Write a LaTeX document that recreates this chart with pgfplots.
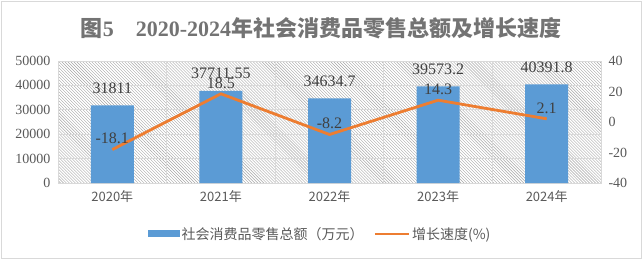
\documentclass[border=0pt]{standalone}
\usepackage{fontspec}
\usepackage{pgfplots}
\usepackage{pgfplotstable}
\pgfplotsset{compat=1.18}
\usetikzlibrary{patterns}
\setmainfont{Liberation Serif}
\newfontfamily\cjk{Noto Sans CJK SC}
\definecolor{barblue}{HTML}{5B9BD5}
\definecolor{lineorange}{HTML}{ED7D31}
\definecolor{gridgray}{HTML}{D9D9D9}
\definecolor{txtgray}{HTML}{595959}
\definecolor{lblgray}{HTML}{404040}
\definecolor{titlegray}{HTML}{737373}

\pgfplotstableread{
x y lab
0 31811 31811
1 37711.55 37711.55
2 34634.7 34634.7
3 39573.2 39573.2
4 40391.8 40391.8
}\salesdata

\pgfplotstableread{
x g lab
0 -18.1 -18.1
1 18.5 18.5
2 -8.2 -8.2
3 14.3 14.3
4 2.1 2.1
}\growthdata

\begin{document}
\begin{tikzpicture}
\useasboundingbox (0bp,0bp) rectangle (643bp,260bp);
\draw[color=gridgray, line width=1bp] (1.5bp,1.5bp) rectangle (641.5bp,258.5bp);
\node[text=titlegray, font=\fontsize{22bp}{24bp}\selectfont\bfseries] at (321bp,232bp)
  {{\cjk 图}5\hspace{22bp}2020-2024{\cjk 年社会消费品零售总额及增长速度}};

\begin{axis}[
  at={(58bp,77bp)}, anchor=south west,
  scale only axis, width=543bp, height=122bp,
  xmin=-0.5, xmax=4.5,
  ymin=0, ymax=50000,
  axis y line*=left, axis x line*=bottom,
  axis line style={draw=none},
  axis background/.style={pattern=north west lines, pattern color=black!35},
  xtick={0,1,2,3,4},
  xticklabels={2020年,2021年,2022年,2023年,2024年},
  x tick label style={font=\cjk\fontsize{13bp}{15bp}\selectfont, text=txtgray, yshift=-4bp},
  minor xtick={0.5,1.5,2.5,3.5},
  xminorgrids, ymajorgrids,
  grid style={gridgray, line width=0.8bp},
  minor grid style={gridgray, line width=0.8bp},
  ytick={0,10000,20000,30000,40000,50000},
  scaled y ticks=false,
  yticklabel style={/pgf/number format/assume math mode=true, /pgf/number format/1000 sep={},
    font=\fontsize{14bp}{16bp}\selectfont, text=txtgray, xshift=-4bp},
  major tick length=0pt, minor tick length=0pt,
  clip=false,
  legend style={at={(0.4825,-0.418)}, anchor=center, draw=none, fill=none,
    legend columns=2, font=\cjk\fontsize{14bp}{16bp}\selectfont, text=txtgray,
    /tikz/every even column/.append style={column sep=8bp}},
  legend cell align=left,
]
\draw[gridgray, line width=0.8bp] (rel axis cs:0,0) rectangle (rel axis cs:1,1);
\addplot[ybar, bar width=43bp, fill=barblue, draw=none,
  point meta=explicit symbolic,
  nodes near coords,
  nodes near coords style={anchor=south, inner sep=0pt, yshift=12bp, text=lblgray, font=\fontsize{16bp}{18bp}\selectfont},
  legend image code/.code={\fill[barblue] (0bp,-3.5bp) rectangle (32bp,3.5bp);}
] table[x=x, y=y, meta=lab] {\salesdata};
\addlegendentry{社会消费品零售总额（万元）}
\addlegendimage{legend image code/.code={\draw[lineorange, line width=2.5bp] (0bp,0bp) -- (34bp,0bp);}}
\addlegendentry{增长速度(\%)}
\end{axis}

\begin{axis}[
  at={(58bp,77bp)}, anchor=south west,
  scale only axis, width=543bp, height=122bp,
  xmin=-0.5, xmax=4.5,
  ymin=-40, ymax=40,
  axis y line*=right, axis x line=none,
  axis line style={draw=none},
  ytick={-40,-20,0,20,40},
  yticklabel style={/pgf/number format/assume math mode=true,
    font=\fontsize{14bp}{16bp}\selectfont, text=txtgray, xshift=4bp},
  major tick length=0pt,
  clip=false,
]
\addplot[lineorange, line width=2.8bp, mark=none,
  point meta=explicit symbolic,
  nodes near coords,
  nodes near coords style={anchor=south, inner sep=0pt, yshift=4bp, text=lblgray, font=\fontsize{16bp}{18bp}\selectfont}
] table[x=x, y=g, meta=lab] {\growthdata};
\end{axis}
\end{tikzpicture}
\end{document}
